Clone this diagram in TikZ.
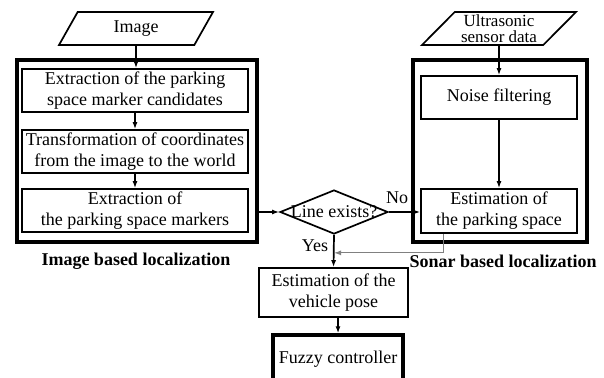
\documentclass[tikz,border=0pt]{standalone}
\usepackage{fontspec}
\setmainfont{Liberation Serif}
\usetikzlibrary{arrows.meta, shapes.geometric}

\tikzset{
  box/.style={draw, line width=0.6mm, minimum height=43pt, inner sep=0pt, align=center},
  frame/.style={draw, line width=1.2mm, inner sep=0pt},
  inbox/.style={trapezium, trapezium left angle=40, trapezium right angle=140, trapezium stretches body,
    draw, line width=0.6mm, minimum height=33pt, inner sep=0pt, align=center},
  decide/.style={diamond, draw, line width=0.6mm, minimum width=108pt, minimum height=44pt, inner sep=0pt},
  arr/.style={line width=0.6mm, -{Latex[length=7pt, width=5pt]}},
  grayarr/.style={draw=gray, line width=0.4mm, -{Latex[length=7pt, width=5pt]}},
}

\begin{document}
\begin{tikzpicture}[x=1pt, y=-1pt, font=\fontsize{18}{21}\selectfont]
\useasboundingbox (0,0) rectangle (604,377);

% left part: image
\node[frame, minimum width=240pt, minimum height=182pt] (imgframe) at (137,151) {};
\node[inbox, minimum width=154pt] (img) at (136,28.5) {Image};
\node[box, minimum width=226pt] (extr) at (135,90.5) {Extraction of the parking\\space marker candidates};
\node[box, minimum width=226pt] (trans) at (135,151.5) {Transformation of coordinates\\from the image to the world};
\node[box, minimum width=226pt] (mark) at (135,210.5) {Extraction of\\the parking space markers};

% right part: sonar
\node[frame, minimum width=174pt, minimum height=182pt] (sonframe) at (500,151) {};
\node[inbox, minimum width=154pt, font=\fontsize{17}{15.5}\selectfont] (ultra) at (499,28.5) {Ultrasonic\\sensor data};
\node[box, minimum width=156pt] (noise) at (499,97.5) {Noise filtering};
\node[box, minimum width=156pt, minimum height=44pt] (park) at (499,211) {Estimation of\\the parking space};

% middle
\node[decide, label={center:Line exists?}] (line) at (334,212) {};
\node[box, minimum width=149pt, minimum height=49pt] (pose) at (333.5,292.5) {Estimation of the\\vehicle pose};
\node[box, line width=1.2mm, minimum width=130pt, minimum height=48pt] (fuzzy) at (338,359) {Fuzzy controller};

\draw (136,261) node[font=\fontsize{18}{21}\selectfont\bfseries] (imglab) {Image based localization};
\draw (503,261) node[font=\fontsize{18}{21}\selectfont\bfseries] (sonlab) {Sonar based localization};
\draw (397,198) node (nolab) {No};
\draw (315,246) node (yeslab) {Yes};

\draw[arr] (img.south) -- (img.south |- extr.north);
\draw[arr] (extr.south) -- (trans.north);
\draw[arr] (trans.south) -- (mark.north);
\draw[arr] (imgframe.east |- line.west) -- (line.west);
\draw[arr] (ultra.south) -- (noise.north);
\draw[arr] (noise.south) -- (park.north);
\draw[arr] (line.east) -- (line.east -| park.west);
\draw[arr] (line.south) -- (pose.north);
\draw[grayarr] ([xshift=23pt]park.south west) |- ([yshift=-18pt]line.south);
\draw[arr] (pose.south -| fuzzy.north) -- (fuzzy.north);
%\draw[arr] (pose.south) -- (fuzzy.north);
\end{tikzpicture}
\end{document}
